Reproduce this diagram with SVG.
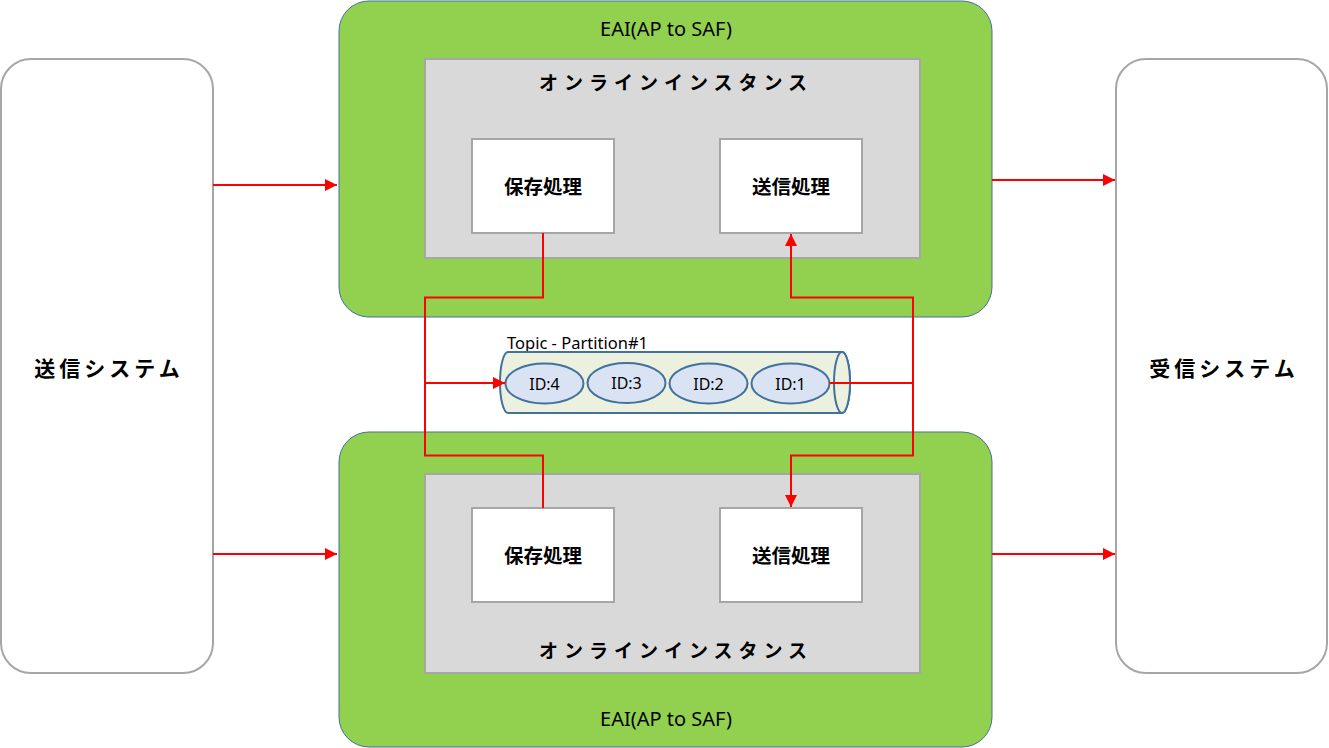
<svg xmlns="http://www.w3.org/2000/svg" width="1329" height="748" viewBox="0 0 1329 748">
<style>
.sys{fill:#ffffff;stroke:#a6a6a6;stroke-width:2}
.eai{fill:#92d050;stroke:#41719c;stroke-width:1}
.inst{fill:#d9d9d9;stroke:#a6a6a6;stroke-width:2}
.proc{fill:#ffffff;stroke:#a6a6a6;stroke-width:2}
.t-eai{font-family:"Noto Sans","Liberation Sans",sans-serif;font-size:20px;fill:#000;text-anchor:middle}
.t-inst{font-family:"Noto Sans CJK JP",sans-serif;font-size:19px;font-weight:bold;letter-spacing:6px;fill:#000;text-anchor:middle}
.t-proc{font-family:"Noto Sans CJK JP",sans-serif;font-size:19.5px;font-weight:bold;fill:#000;text-anchor:middle}
.t-sys{font-family:"Noto Sans CJK JP",sans-serif;font-size:21px;font-weight:bold;letter-spacing:4px;fill:#000;text-anchor:middle}
.msg{fill:#dae3f3;stroke:#41719c;stroke-width:2}
.t-msg{font-family:"Noto Sans","Liberation Sans",sans-serif;font-size:16px;fill:#000;text-anchor:middle}
.conn{fill:none;stroke:#ff0000;stroke-width:2}
</style>
<defs>
<marker id="arr" viewBox="0 0 10 10" refX="10" refY="5" markerWidth="12" markerHeight="12" markerUnits="userSpaceOnUse" orient="auto">
<path d="M0,0 L10,5 L0,10 Z" fill="#ff0000"/>
</marker>
</defs>
<rect width="1329" height="748" fill="#ffffff"/>

<g id="sender">
<rect class="sys" x="1" y="59" width="212" height="614" rx="30"/>
<text class="t-sys" x="109" y="376">送信システム</text>
</g>
<g id="receiver">
<rect class="sys" x="1116" y="59" width="211" height="614" rx="30"/>
<text class="t-sys" x="1224" y="376">受信システム</text>
</g>

<g id="eai-top">
<rect class="eai" x="339" y="1" width="653" height="316" rx="30"/>
<text class="t-eai" x="666" y="36">EAI(AP to SAF)</text>
</g>
<g id="inst-top">
<rect class="inst" x="425" y="59" width="495" height="199"/>
<text class="t-inst" x="676" y="90">オンラインインスタンス</text>
</g>
<g id="save-top">
<rect class="proc" x="472" y="139" width="142" height="94"/>
<text class="t-proc" x="543" y="194">保存処理</text>
</g>
<g id="send-top">
<rect class="proc" x="720" y="139" width="142" height="94"/>
<text class="t-proc" x="791" y="194">送信処理</text>
</g>

<g id="eai-bottom">
<rect class="eai" x="339" y="432" width="653" height="315" rx="30"/>
<text class="t-eai" x="666" y="726">EAI(AP to SAF)</text>
</g>
<g id="inst-bottom">
<rect class="inst" x="425" y="474" width="495" height="199"/>
<text class="t-inst" x="676" y="658">オンラインインスタンス</text>
</g>
<g id="save-bottom">
<rect class="proc" x="472" y="508" width="142" height="94"/>
<text class="t-proc" x="543" y="563">保存処理</text>
</g>
<g id="send-bottom">
<rect class="proc" x="720" y="508" width="142" height="94"/>
<text class="t-proc" x="791" y="563">送信処理</text>
</g>

<g id="topic">
<text x="507" y="349" font-family="'Noto Sans','Liberation Sans',sans-serif" font-size="16.5" fill="#000">Topic - Partition#1</text>
<path d="M508,352 L842,352 A8,30.5 0 0 1 842,413 L508,413 A8,30.5 0 0 1 508,352 Z" fill="#ebf1de" stroke="#41719c" stroke-width="2"/>
<ellipse cx="842" cy="382.5" rx="8" ry="30.5" fill="#ebf1de" stroke="#41719c" stroke-width="2"/>
<ellipse class="msg" cx="544.5" cy="383.5" rx="39" ry="20"/>
<text class="t-msg" x="544.5" y="389.5">ID:4</text>
<ellipse class="msg" cx="626.5" cy="383" rx="39" ry="20"/>
<text class="t-msg" x="626.5" y="389">ID:3</text>
<ellipse class="msg" cx="708.5" cy="383.5" rx="39" ry="20"/>
<text class="t-msg" x="708.5" y="389.5">ID:2</text>
<ellipse class="msg" cx="790.5" cy="383.5" rx="39" ry="20"/>
<text class="t-msg" x="790.5" y="389.5">ID:1</text>
</g>

<g id="connectors">
<line class="conn" x1="213" y1="185" x2="337" y2="185" marker-end="url(#arr)"/>
<line class="conn" x1="213" y1="554" x2="337" y2="554" marker-end="url(#arr)"/>
<line class="conn" x1="992" y1="180" x2="1115" y2="180" marker-end="url(#arr)"/>
<line class="conn" x1="992" y1="554" x2="1115" y2="554" marker-end="url(#arr)"/>
<path class="conn" d="M543,233 V297.5 H425 V455.5 H543 V508"/>
<line class="conn" x1="425" y1="383" x2="505" y2="383" marker-end="url(#arr)"/>
<path class="conn" d="M829.5,383 H913"/>
<path class="conn" d="M913,383 V297.5 H791 V234" marker-end="url(#arr)"/>
<path class="conn" d="M913,383 V455.5 H791 V507" marker-end="url(#arr)"/>
</g>
</svg>
